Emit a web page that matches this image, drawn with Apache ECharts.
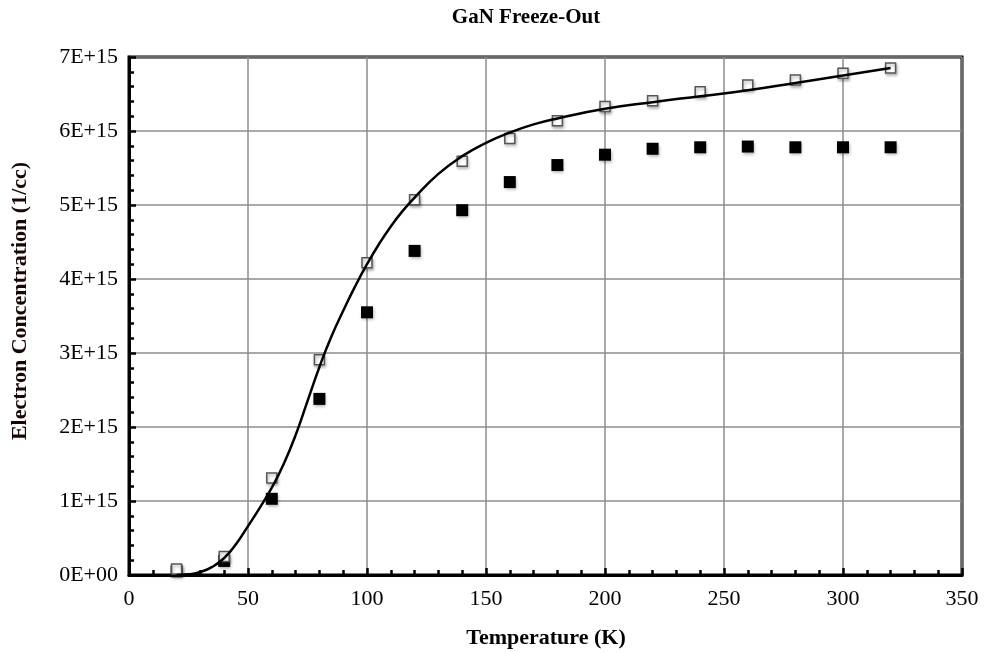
<!DOCTYPE html>
<html>
<head>
<meta charset="utf-8">
<script src="https://cdn.jsdelivr.net/npm/echarts@6/dist/echarts.min.js"></script>
<style>html,body{margin:0;padding:0;background:#fff}#c{width:984px;height:652px}</style>
</head>
<body>
<div id="c"></div>
<script>
// Values in units of 1E+15 electrons / cc
var temps = [20, 40, 60, 80, 100, 120, 140, 160, 180, 200, 220, 240, 260, 280, 300, 320];
var hollowValues = [0.08, 0.25, 1.31, 2.91, 4.22, 5.07, 5.59, 5.90, 6.14, 6.33, 6.41, 6.53, 6.62, 6.69, 6.78, 6.85];
var filledValues = [0.05, 0.19, 1.03, 2.38, 3.55, 4.38, 4.93, 5.31, 5.54, 5.68, 5.76, 5.78, 5.79, 5.78, 5.78, 5.78];
var curveTemps = [20, 25, 30, 35, 40, 45, 50, 55, 60, 65, 70, 75, 80, 85, 90, 95, 100, 105, 110, 115, 120, 130, 140, 150, 160, 170, 180, 200, 220, 240, 260, 280, 300, 320];
var curveValues = [0.0, 0.01, 0.04, 0.11, 0.23, 0.42, 0.66, 0.91, 1.18, 1.5, 1.89, 2.35, 2.81, 3.22, 3.57, 3.9, 4.2, 4.47, 4.71, 4.92, 5.1, 5.42, 5.66, 5.84, 5.98, 6.09, 6.17, 6.30, 6.39, 6.47, 6.55, 6.65, 6.75, 6.85];
var yTickExp = 'E+15';
var titleText = 'GaN Freeze-Out';
var xTitle = 'Temperature (K)';
var yTitle = 'Electron Concentration (1/cc)';

function pairs(xs, ys) { return xs.map(function (x, i) { return [x, ys[i]]; }); }

var font = '"Liberation Serif", "Times New Roman", serif';
var chart = echarts.init(document.getElementById('c'));
chart.setOption({
  backgroundColor: '#fff',
  animation: false,
  grid: { left: 129, right: 22, top: 57, bottom: 77, show: true, borderColor: '#000', borderWidth: 3, backgroundColor: 'transparent' },
  graphic: [
    { type: 'text', x: 526, y: 18, style: { text: titleText, font: 'bold 21px ' + font, fill: '#000', align: 'center', verticalAlign: 'middle' } },
    { type: 'text', x: 546, y: 638, style: { text: xTitle, font: 'bold 22px ' + font, fill: '#000', align: 'center', verticalAlign: 'middle' } },
    { type: 'text', x: 20, y: 301, rotation: Math.PI / 2, style: { text: yTitle, font: 'bold 22px ' + font, fill: '#1a0505', align: 'center', verticalAlign: 'middle' } }
  ],
  xAxis: {
    type: 'value', min: 0, max: 350, interval: 50,
    axisLine: { show: true, onZero: false, lineStyle: { color: '#000', width: 3 } },
    axisTick: { show: true, inside: true, length: 7, lineStyle: { color: '#000', width: 2.5 } },
    minorTick: { show: true, splitNumber: 5, length: 5, lineStyle: { color: '#000', width: 2.5 } },
    splitLine: { show: true, lineStyle: { color: '#8c8c8c', width: 1.5 } },
    axisLabel: { margin: 13, color: '#000', fontSize: 22, fontFamily: font }
  },
  yAxis: {
    type: 'value', min: 0, max: 7, interval: 1,
    axisLine: { show: true, onZero: false, lineStyle: { color: '#000', width: 3 } },
    axisTick: { show: true, inside: true, length: 7, lineStyle: { color: '#000', width: 2.5 } },
    minorTick: { show: true, splitNumber: 5, length: 5, lineStyle: { color: '#000', width: 2.5 } },
    splitLine: { show: true, lineStyle: { color: '#8c8c8c', width: 1.5 } },
    axisLabel: {
      margin: 11, color: '#000', fontSize: 22, fontFamily: font,
      formatter: function (v) { return v === 0 ? '0E+00' : Math.round(v) + yTickExp; }
    }
  },
  series: [
    {
      type: 'scatter', name: 'filled', symbol: 'rect', symbolSize: 12,
      data: pairs(temps, filledValues),
      itemStyle: { color: '#000', opacity: 1, shadowBlur: 3, shadowColor: 'rgba(0,0,0,0.3)', shadowOffsetX: 1, shadowOffsetY: 2 },
      z: 3
    },
    {
      type: 'scatter', name: 'hollow', symbol: 'rect', symbolSize: 10,
      data: pairs(temps, hollowValues),
      itemStyle: { color: '#fff', opacity: 1, borderColor: '#555', borderWidth: 1.5, shadowBlur: 3, shadowColor: 'rgba(0,0,0,0.3)', shadowOffsetX: 1, shadowOffsetY: 2 },
      z: 3
    },
    {
      type: 'line', name: 'model', smooth: 0.5, showSymbol: false, symbol: 'none',
      data: pairs(curveTemps, curveValues),
      lineStyle: { color: '#000', width: 2.5 },
      z: 4
    }
  ]
});
</script>
</body>
</html>
